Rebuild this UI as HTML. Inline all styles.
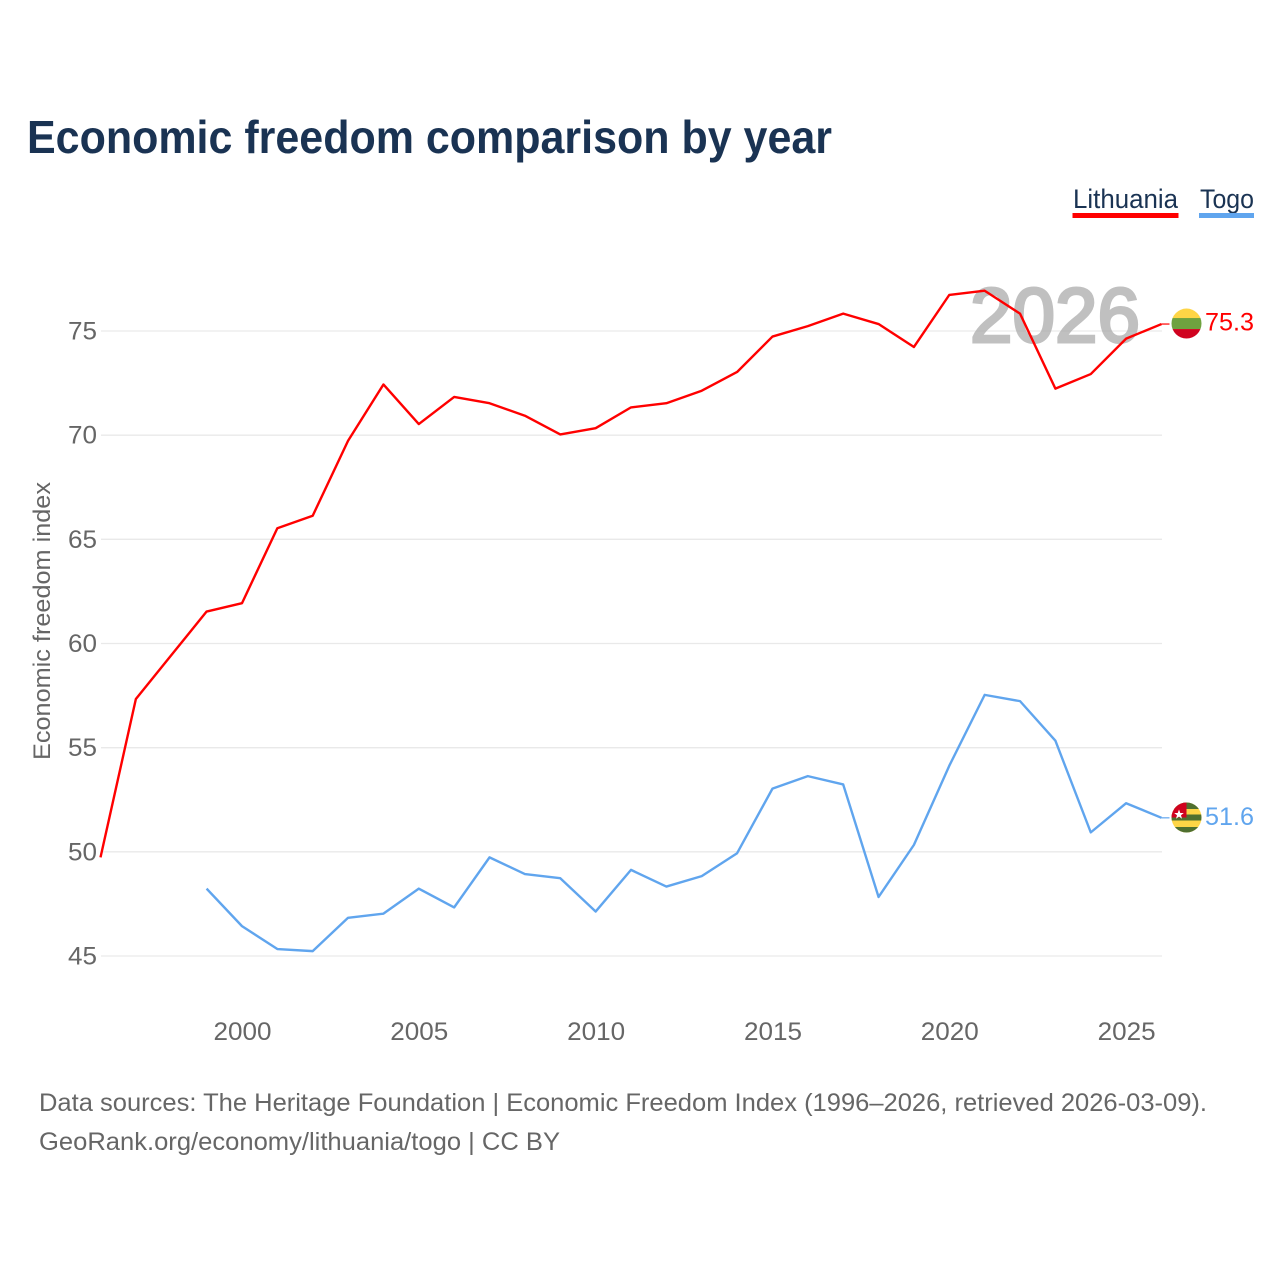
<!DOCTYPE html>
<html>
<head>
<meta charset="utf-8">
<title>Economic freedom comparison by year</title>
<style>
html,body{margin:0;padding:0;background:#fff;width:1280px;height:1280px;overflow:hidden}
svg{display:block}
text{font-family:"Liberation Sans",sans-serif}
</style>
</head>
<body>
<svg id="chart" xmlns="http://www.w3.org/2000/svg" width="1280" height="1280" viewBox="0 0 1280 1280">
  <rect width="1280" height="1280" fill="#fff"/>
  <text x="27" y="153" font-size="46" font-weight="700" fill="#1a3353" textLength="805" lengthAdjust="spacingAndGlyphs">Economic freedom comparison by year</text>

  <g>
    <g>
      <text x="1073" y="208" font-size="27" fill="#1a3353" textLength="105" lengthAdjust="spacingAndGlyphs">Lithuania</text>
      <rect x="1072.5" y="213" width="106" height="5" fill="#ff0000"/>
    </g>
    <g>
      <text x="1200" y="208" font-size="27" fill="#1a3353" textLength="54" lengthAdjust="spacingAndGlyphs">Togo</text>
      <rect x="1199" y="213" width="55" height="5" fill="#60a5ee"/>
    </g>
  </g>

  <g id="grid"></g>
  <g opacity="0.72">
    <text x="970" y="342" font-size="77" font-weight="400" fill="#a8a8a8" stroke="#a8a8a8" stroke-width="3" textLength="170" lengthAdjust="spacingAndGlyphs">2026</text>
  </g>
  <g id="yticks"></g>
  <g id="xticks"></g>
  <text transform="translate(50,621) rotate(-90)" text-anchor="middle" font-size="24" fill="#666" textLength="278" lengthAdjust="spacingAndGlyphs">Economic freedom index</text>

  <g id="series"></g>

  <g id="flag-lt">
    <clipPath id="clip-lt"><circle cx="0" cy="0" r="15"/></clipPath>
    <g clip-path="url(#clip-lt)">
      <rect x="-16" y="-16" width="32" height="11" fill="#fed546"/>
      <rect x="-16" y="-5.5" width="32" height="11" fill="#6fa23f"/>
      <rect x="-16" y="5.5" width="32" height="11" fill="#d0021f"/>
    </g>
  </g>
  <g id="flag-tg">
    <clipPath id="clip-tg"><circle cx="0" cy="0" r="15"/></clipPath>
    <g clip-path="url(#clip-tg)">
      <rect x="-16" y="-16" width="32" height="32" fill="#fed546"/>
      <rect x="-16" y="-16" width="32" height="7.5" fill="#4f6f2f"/>
      <rect x="-16" y="-3" width="32" height="6" fill="#4f6f2f"/>
      <rect x="-16" y="9.5" width="32" height="7" fill="#4f6f2f"/>
      <rect x="-16" y="-16" width="16" height="16" fill="#d0021f"/>
      <polygon transform="translate(0,3.5)" points="-7.5,-11.5 -6.2,-8 -2.7,-8 -5.5,-5.8 -4.5,-2.3 -7.5,-4.4 -10.5,-2.3 -9.5,-5.8 -12.3,-8 -8.8,-8" fill="#fff"/>
    </g>
  </g>
  <text id="value-lt" x="1205" font-size="25" fill="#ff0000" textLength="49" lengthAdjust="spacingAndGlyphs"></text>
  <text id="value-tg" x="1205" font-size="25" fill="#60a5ee" textLength="49" lengthAdjust="spacingAndGlyphs"></text>

  <text x="39" y="1111" font-size="25" fill="#666" textLength="1168" lengthAdjust="spacingAndGlyphs">Data sources: The Heritage Foundation | Economic Freedom Index (1996–2026, retrieved 2026-03-09).</text>
  <text x="39" y="1150" font-size="25" fill="#666" textLength="521" lengthAdjust="spacingAndGlyphs">GeoRank.org/economy/lithuania/togo | CC BY</text>
</svg>
<script>
const years = [1996,1997,1998,1999,2000,2001,2002,2003,2004,2005,2006,2007,2008,2009,2010,2011,2012,2013,2014,2015,2016,2017,2018,2019,2020,2021,2022,2023,2024,2025,2026];
const lithuaniaValues = [49.7,57.3,59.4,61.5,61.9,65.5,66.1,69.7,72.4,70.5,71.8,71.5,70.9,70.0,70.3,71.3,71.5,72.1,73.0,74.7,75.2,75.8,75.3,74.2,76.7,76.9,75.8,72.2,72.9,74.6,75.3];
const togoValues = [null,null,null,48.2,46.4,45.3,45.2,46.8,47.0,48.2,47.3,49.7,48.9,48.7,47.1,49.1,48.3,48.8,49.9,53.0,53.6,53.2,47.8,50.3,54.1,57.5,57.2,55.3,50.9,52.3,51.6];
const yTickValues = [45,50,55,60,65,70,75];
const xTickValues = [2000,2005,2010,2015,2020,2025];

const NS = 'http://www.w3.org/2000/svg';
const seriesShiftX = -0.5;
const seriesShiftY = -0.7;
function xScale(year){ return 101 + (year - 1996) * (1162 - 101) / 30; }
function yScale(value){ return 956 - (value - 45) * (956 - 331) / 30; }
function make(tag, parentId){
  const el = document.createElementNS(NS, tag);
  document.getElementById(parentId).appendChild(el);
  return el;
}

yTickValues.forEach(function(v){
  const line = make('line', 'grid');
  
  
  line.setAttribute('x1', 101);
  line.setAttribute('x2', 1162);
  line.setAttribute('y1', yScale(v));
  line.setAttribute('y2', yScale(v));
  line.setAttribute('stroke', '#e9e9e9');
  line.setAttribute('stroke-width', 1.3);

  const label = make('text', 'yticks');
  
  
  label.setAttribute('x', 68);
  label.setAttribute('y', yScale(v) + 8.5);
  label.setAttribute('font-size', 25);
  label.setAttribute('fill', '#666');
  label.setAttribute('textLength', 29);
  label.setAttribute('lengthAdjust', 'spacingAndGlyphs');
  label.textContent = v;
});

xTickValues.forEach(function(yr){
  const label = make('text', 'xticks');
  
  
  label.setAttribute('x', xScale(yr) - 29);
  label.setAttribute('y', 1040);
  label.setAttribute('font-size', 25);
  label.setAttribute('fill', '#666');
  label.setAttribute('textLength', 58);
  label.setAttribute('lengthAdjust', 'spacingAndGlyphs');
  label.textContent = yr;
});

function drawSeries(values, color, name){
  let d = '';
  let lastX = 0, lastY = 0, lastV = null;
  values.forEach(function(v, i){
    if (v === null) return;
    lastX = xScale(years[i]) + seriesShiftX;
    lastY = yScale(v) + seriesShiftY;
    lastV = v;
    d += (d ? 'L' : 'M') + lastX.toFixed(2) + ' ' + lastY.toFixed(2);
  });
  const path = make('path', 'series');
  
  
  path.setAttribute('d', d);
  path.setAttribute('fill', 'none');
  path.setAttribute('stroke', color);
  path.setAttribute('stroke-width', 2.4);
  path.setAttribute('stroke-linejoin', 'round');

  const stub = make('line', 'series');
  
  
  stub.setAttribute('x1', lastX);
  stub.setAttribute('x2', lastX + 8);
  stub.setAttribute('y1', lastY);
  stub.setAttribute('y2', lastY);
  stub.setAttribute('stroke', color);
  stub.setAttribute('stroke-width', 1.5);
  stub.setAttribute('stroke-opacity', 0.8);
  return {x: lastX, y: lastY, v: lastV};
}

const endLt = drawSeries(lithuaniaValues, '#ff0000', 'line-lithuania');
const endTg = drawSeries(togoValues, '#60a5ee', 'line-togo');

document.getElementById('flag-lt').setAttribute('transform', 'translate(' + (endLt.x + 25) + ',' + (endLt.y - 0.5) + ')');
document.getElementById('flag-tg').setAttribute('transform', 'translate(' + (endTg.x + 25) + ',' + (endTg.y - 0.3) + ')');

const valueLt = document.getElementById('value-lt');
valueLt.setAttribute('y', endLt.y + 6.5);
valueLt.textContent = endLt.v.toFixed(1);
const valueTg = document.getElementById('value-tg');
valueTg.setAttribute('y', endTg.y + 7);
valueTg.textContent = endTg.v.toFixed(1);
</script>
</body>
</html>
